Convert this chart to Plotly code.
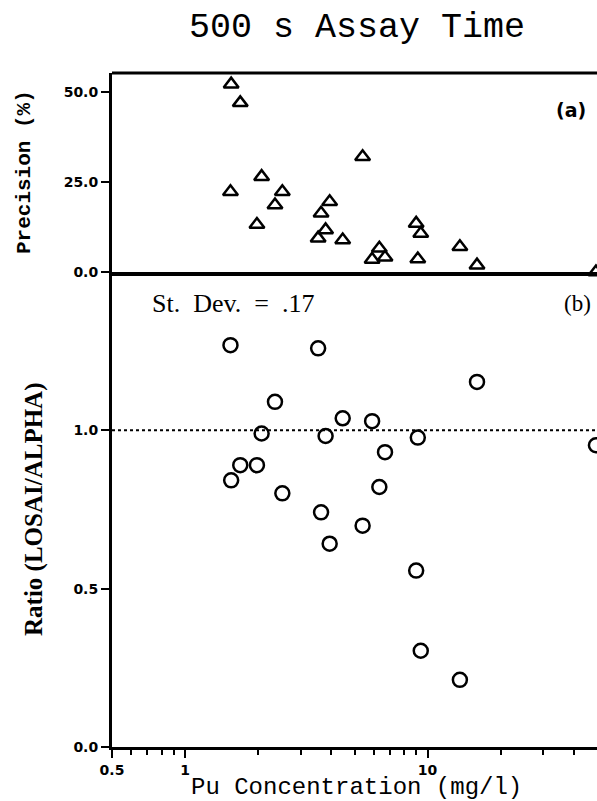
import plotly.graph_objects as go
from plotly.subplots import make_subplots

# ---- data ----
conc = [1.55, 1.69, 1.54, 2.07, 1.98, 2.52, 2.35, 3.64, 3.95, 3.80, 3.54,
        4.47, 5.40, 5.91, 6.33, 6.68, 8.98, 9.38, 9.12, 13.6, 16.0, 49.5]
precision = [52.2, 47.0, 22.3, 26.5, 13.2, 22.3, 18.6, 16.3, 19.5, 11.7, 9.4,
             8.9, 32.0, 3.5, 6.6, 4.1, 13.5, 10.7, 3.6, 7.0, 1.9, 0.0]
ratio = [0.842, 0.890, 1.269, 0.990, 0.890, 0.801, 1.090, 0.741, 0.642, 0.982, 1.259,
         1.038, 0.699, 1.029, 0.821, 0.931, 0.557, 0.304, 0.977, 0.212, 1.153, 0.953]

x_tickvals = [0.5, 1, 10]
x_ticktext = ["0.5", "1", "10"]
x_minor = [0.6, 0.7, 0.8, 0.9, 2, 3, 4, 5, 6, 7, 8, 9, 20, 30, 40]
prec_ticks = [0, 25, 50]
prec_text = ["0.0", "25.0", "50.0"]
ratio_ticks = [0, 0.5, 1.0]
ratio_text = ["0.0", "0.5", "1.0"]
ref_ratio = 1.0

W, H = 597, 801
split = (747 - 272) / 674.0

fig = make_subplots(rows=2, cols=1, shared_xaxes=True, vertical_spacing=0)

fig.add_trace(go.Scatter(
    x=conc, y=precision, mode="markers", cliponaxis=False,
    marker=dict(symbol="triangle-up-open", size=13, color="black",
                line=dict(color="black", width=2.5)),
    showlegend=False), row=1, col=1)

fig.add_trace(go.Scatter(
    x=conc, y=ratio, mode="markers", cliponaxis=False,
    marker=dict(symbol="circle-open", size=14, color="black",
                line=dict(color="black", width=2.5)),
    showlegend=False), row=2, col=1)

tickfont = dict(family="DejaVu Sans", size=14, color="black", weight="bold")
xr = [-0.30103, 1.69897]

fig.update_layout(
    width=W, height=H,
    margin=dict(l=112, r=0, t=73, b=54),
    paper_bgcolor="white", plot_bgcolor="white",
    hovermode=False,
    xaxis=dict(type="log", range=xr, domain=[0, 1], showgrid=False,
               showline=True, linewidth=4, linecolor="black",
               showticklabels=False, ticks="", zeroline=False),
    yaxis=dict(domain=[split, 1], range=[0, 55.3], showgrid=False, zeroline=False,
               showline=True, linewidth=3, linecolor="black",
               tickvals=prec_ticks, ticktext=prec_text, ticks="outside",
               ticklen=8, tickwidth=2, tickcolor="black", tickfont=tickfont),
    xaxis2=dict(type="log", range=xr, showgrid=False, zeroline=False,
                showline=True, linewidth=3, linecolor="black",
                tickvals=x_tickvals, ticktext=x_ticktext, ticks="outside",
                ticklen=8, tickwidth=2, tickcolor="black", tickfont=tickfont,
                minor=dict(tickvals=x_minor, ticks="outside", ticklen=5,
                           tickwidth=1.5, tickcolor="black", showgrid=False)),
    yaxis2=dict(domain=[0, split], range=[0, 1.5], showgrid=False, zeroline=False,
                showline=True, linewidth=3, linecolor="black",
                tickvals=ratio_ticks, ticktext=ratio_text, ticks="outside",
                ticklen=8, tickwidth=2, tickcolor="black", tickfont=tickfont),
)

# top border of panel (a)
fig.add_shape(type="line", xref="paper", yref="paper", x0=0, x1=1, y0=1, y1=1,
              line=dict(color="black", width=3))
# dotted reference line at ratio = 1
fig.add_shape(type="line", xref="x2 domain", yref="y2", x0=0, x1=1,
              y0=ref_ratio, y1=ref_ratio, line=dict(color="black", width=2, dash="dot"))

# titles
fig.add_annotation(text="500 s Assay Time", xref="paper", yref="paper",
                   x=(357 - 112) / 485.0, y=1 + (73 - 28) / 674.0, showarrow=False,
                   font=dict(family="Liberation Mono", size=35, color="black"),
                   xanchor="center", yanchor="middle")
fig.add_annotation(text="Precision (%)", xref="paper", yref="paper",
                   x=(24 - 112) / 485.0, y=(747 - 172) / 674.0, showarrow=False,
                   textangle=-90,
                   font=dict(family="Liberation Mono", size=21, color="black", weight="bold"),
                   xanchor="center", yanchor="middle")
fig.add_annotation(text="Ratio (LOSAI/ALPHA)", xref="paper", yref="paper",
                   x=(34 - 112) / 485.0, y=(747 - 510) / 674.0, showarrow=False,
                   textangle=-90,
                   font=dict(family="Liberation Serif", size=25, color="black", weight="bold"),
                   xanchor="center", yanchor="middle")
fig.add_annotation(text="Pu Concentration (mg/l)", xref="paper", yref="paper",
                   x=(356 - 112) / 485.0, y=(747 - 787) / 674.0, showarrow=False,
                   font=dict(family="Liberation Mono", size=24, color="black"),
                   xanchor="center", yanchor="middle")
fig.add_annotation(text="(a)", xref="paper", yref="paper",
                   x=(571 - 112) / 485.0, y=(747 - 110) / 674.0, showarrow=False,
                   font=dict(family="DejaVu Sans", size=19, color="black", weight="bold"),
                   xanchor="center", yanchor="middle")
fig.add_annotation(text="(b)", xref="paper", yref="paper",
                   x=(577 - 112) / 485.0, y=(747 - 303) / 674.0, showarrow=False,
                   font=dict(family="Liberation Serif", size=23, color="black"),
                   xanchor="center", yanchor="middle")
fig.add_annotation(text="St.  Dev.  =  .17", xref="paper", yref="paper",
                   x=(150 - 112) / 485.0, y=(747 - 303) / 674.0, showarrow=False,
                   font=dict(family="Liberation Serif", size=26, color="black"),
                   xanchor="left", yanchor="middle")

fig.write_html("out.html", config={"displayModeBar": False},
               post_script="document.body.style.margin='0px';")
